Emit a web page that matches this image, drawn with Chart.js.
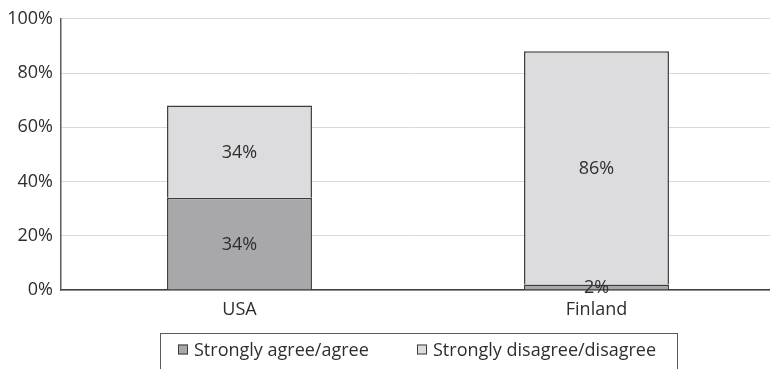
<!DOCTYPE html>
<html>
<head>
<meta charset="utf-8">
<script src="https://cdn.jsdelivr.net/npm/chart.js@4/dist/chart.umd.min.js"></script>
<style>
  html, body { margin: 0; padding: 0; background: #fff; }
  #wrap { width: 770px; height: 369px; }
</style>
</head>
<body>
<div id="wrap"><canvas id="c" width="770" height="369"></canvas></div>
<script>
// Survey responses by country (percent of respondents)
const countries = ['USA', 'Finland'];
const seriesNames = ['Strongly agree/agree', 'Strongly disagree/disagree'];
const agreeValues = [34, 2];
const disagreeValues = [34, 86];
const yTicks = [0, 20, 40, 60, 80, 100];

const FONT = '"Open Sans", sans-serif';
const FONT_SIZE = 18;
const TEXT_COLOR = '#2e2e2e';
const COLORS = ['#a8a8aa', '#dcdcde'];
const EDGE = '#3c3c3c';

// Category axis runs a little past the right edge of the canvas
const widenCategoryAxis = {
  id: 'widenCategoryAxis',
  afterLayout(chart) {
    const s = chart.scales.x;
    s.right = s.right + 5;
    s.width = s.right - s.left;
    s.configure();
  }
};

// Percent labels drawn in the middle of every bar segment
const segmentLabels = {
  id: 'segmentLabels',
  afterDatasetsDraw(chart) {
    const ctx = chart.ctx;
    ctx.save();
    ctx.font = FONT_SIZE + 'px ' + FONT;
    ctx.fillStyle = TEXT_COLOR;
    ctx.textAlign = 'center';
    ctx.textBaseline = 'middle';
    chart.data.datasets.forEach((ds, di) => {
      const meta = chart.getDatasetMeta(di);
      meta.data.forEach((bar, i) => {
        const v = ds.data[i];
        const p = bar.getProps(['x', 'y', 'base'], true);
        ctx.fillText(v + '%', p.x, (p.y + p.base) / 2 + 1);
      });
    });
    ctx.restore();
  }
};

// Boxed legend under the axis
const boxedLegend = {
  id: 'boxedLegend',
  afterDraw(chart) {
    const ctx = chart.ctx;
    ctx.save();
    ctx.font = FONT_SIZE + 'px ' + FONT;
    const sq = 10, gapText = 6, gapItem = 48, padL = 17, padR = 22;
    const widths = seriesNames.map(t => ctx.measureText(t).width);
    let total = 0;
    widths.forEach((w, i) => { total += sq + gapText + w + (i < widths.length - 1 ? gapItem : 0); });
    const boxW = Math.round(padL + total + padR);
    const boxL = Math.round(418 - boxW / 2) + 0.5;
    const boxTop = 333.5;
    const cy = 349.5;
    ctx.strokeStyle = '#5a5a5a';
    ctx.lineWidth = 1;
    ctx.strokeRect(boxL, boxTop, boxW, 60);
    let x = Math.round(boxL + padL);
    seriesNames.forEach((t, i) => {
      ctx.fillStyle = COLORS[i];
      ctx.fillRect(x, cy - sq / 2, sq, sq);
      ctx.strokeStyle = EDGE;
      ctx.strokeRect(x + 0.5, cy - sq / 2 + 0.5, sq - 1, sq - 1);
      ctx.fillStyle = TEXT_COLOR;
      ctx.textAlign = 'left';
      ctx.textBaseline = 'middle';
      ctx.fillText(t, x + sq + gapText, cy + 1);
      x = Math.round(x + sq + gapText + widths[i] + gapItem);
    });
    ctx.restore();
  }
};

new Chart(document.getElementById('c'), {
  type: 'bar',
  data: {
    labels: countries,
    datasets: [
      {
        label: seriesNames[0],
        data: agreeValues,
        backgroundColor: COLORS[0],
        borderColor: EDGE,
        borderWidth: 1.5,
        borderSkipped: 'start'
      },
      {
        label: seriesNames[1],
        data: disagreeValues,
        backgroundColor: COLORS[1],
        borderColor: EDGE,
        borderWidth: 1.5,
        borderSkipped: 'start'
      }
    ]
  },
  options: {
    responsive: false,
    animation: false,
    devicePixelRatio: 1,
    layout: { padding: { top: 1, left: 0, right: 0, bottom: 0 } },
    datasets: {
      bar: { categoryPercentage: 1, barPercentage: 0.406 }
    },
    plugins: {
      legend: { display: false },
      tooltip: { enabled: false }
    },
    scales: {
      x: {
        stacked: true,
        grid: { display: false },
        border: { color: '#404040', width: 1.5 },
        ticks: { font: { family: FONT, size: FONT_SIZE }, color: TEXT_COLOR, padding: 1 },
        afterFit(scale) { scale.height = 79; }
      },
      y: {
        stacked: true,
        min: 0,
        max: 100,
        afterBuildTicks(scale) { scale.ticks = yTicks.map(v => ({ value: v })); },
        grid: { color: '#d9d9d9', drawTicks: false },
        border: { color: '#5a5a5a', width: 1.5 },
        ticks: {
          font: { family: FONT, size: FONT_SIZE },
          color: TEXT_COLOR,
          padding: 8,
          callback: v => v + '%'
        },
        afterFit(scale) { scale.width = 61; }
      }
    }
  },
  plugins: [widenCategoryAxis, segmentLabels, boxedLegend]
});
</script>
</body>
</html>
